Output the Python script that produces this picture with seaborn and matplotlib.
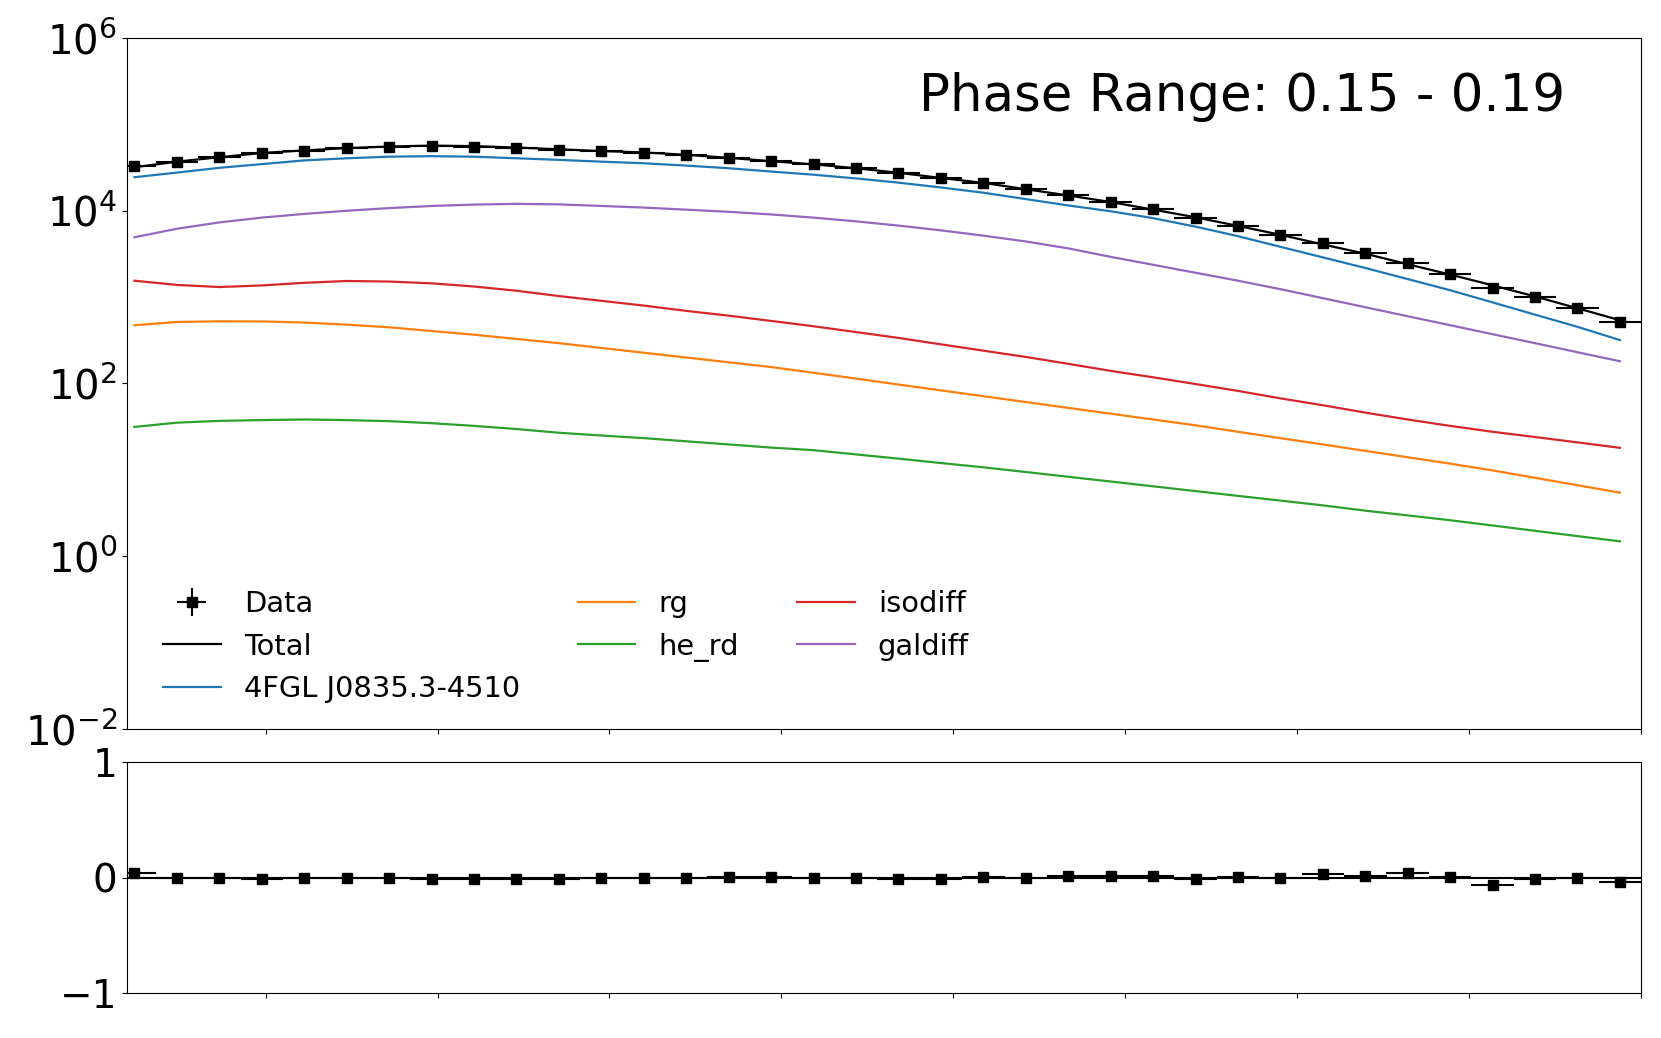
import numpy as np
import pandas as pd
import matplotlib
matplotlib.use("Agg")
import matplotlib.pyplot as plt
import matplotlib.ticker as mticker
import seaborn as sns

# energy bins (x in tick units, evenly spaced in log E)
x_centers = np.linspace(-0.763, 7.877, 36)
x_halfwidth = 0.1235

data_counts = [33230, 37000, 41650, 46240, 49620, 52960, 55250, 56200, 55250, 52960,
               50610, 48930, 47030, 44200, 41180, 37730, 34470, 30960, 27120, 23740,
               21150, 17700, 15230, 12720, 10400, 8300, 6714, 5236, 4190, 3211,
               2497, 1830, 1282, 1009, 739, 518]

total_model = [31900, 37000, 41650, 46660, 49920, 53120, 55420, 56710, 56030, 53880,
               51490, 49080, 47310, 44470, 40930, 37500, 34470, 31050, 27510, 23960,
               21020, 17750, 15050, 12610, 10310, 8400, 6674, 5268, 4072, 3182,
               2401, 1825, 1370, 1018, 743, 540]

vela_psr = [24420, 27650, 31400, 34670, 38260, 40500, 42250, 42840, 42250, 40500,
            38810, 37000, 35460, 33320, 31050, 28440, 26140, 23670, 21150, 18610,
            16170, 13650, 11520, 9860, 8206, 6546, 5076, 3826, 2885, 2175,
            1617, 1202, 868, 627, 453, 318]

rg = [473, 515, 525, 523, 508, 480, 447, 405, 367, 328,
      293, 258, 227, 200, 176, 155, 133, 114, 97.2, 83.2,
      71.3, 61.0, 52.2, 44.7, 38.3, 32.8, 27.6, 23.3, 19.7, 16.6,
      14.0, 11.8, 9.86, 8.09, 6.64, 5.45]

he_rd = [31.4, 35.2, 36.9, 37.7, 38.3, 37.7, 36.6, 34.7, 32.3, 29.7,
         26.9, 25.0, 23.3, 21.4, 19.7, 18.1, 16.9, 15.1, 13.5, 12.0,
         10.7, 9.45, 8.32, 7.33, 6.45, 5.68, 5.00, 4.41, 3.88, 3.37,
         2.97, 2.61, 2.27, 1.97, 1.71, 1.49]

isodiff = [1549, 1384, 1308, 1365, 1464, 1537, 1515, 1444, 1327, 1185,
           1029, 906, 798, 693, 610, 530, 460, 394, 337, 284,
           240, 203, 169, 140, 118, 98.6, 82.1, 67.3, 56.0, 46.0,
           38.3, 32.3, 27.6, 24.0, 20.8, 18.0]

galdiff = [4932, 6186, 7328, 8322, 9188, 10000, 10730, 11360, 11780, 12020,
           11850, 11360, 10880, 10290, 9720, 9060, 8322, 7540, 6733, 5930,
           5150, 4409, 3667, 2927, 2367, 1915, 1549, 1236, 972, 764,
           601, 473, 372, 293, 230, 181]

residuals = [0.043, 0.0, 0.0, -0.009, -0.006, -0.003, -0.003, -0.009, -0.014, -0.017,
             -0.017, -0.003, -0.006, -0.006, 0.006, 0.006, 0.0, -0.003, -0.014, -0.009,
             0.006, -0.003, 0.012, 0.009, 0.009, -0.012, 0.006, -0.006, 0.029, 0.009,
             0.040, 0.003, -0.064, -0.009, -0.006, -0.040]

resid_err = [0.004, 0.004, 0.004, 0.004, 0.004, 0.004, 0.004, 0.004, 0.004, 0.004,
             0.004, 0.004, 0.004, 0.005, 0.005, 0.005, 0.005, 0.006, 0.006, 0.006,
             0.007, 0.007, 0.008, 0.008, 0.009, 0.010, 0.011, 0.012, 0.013, 0.015,
             0.016, 0.018, 0.020, 0.022, 0.025, 0.028]

components = {
    "4FGL J0835.3-4510": (vela_psr, "tab:blue"),
    "rg": (rg, "tab:orange"),
    "he_rd": (he_rd, "tab:green"),
    "isodiff": (isodiff, "tab:red"),
    "galdiff": (galdiff, "tab:purple"),
}

fig = plt.figure(figsize=(16.61, 10.38), dpi=100)
ax = fig.add_axes([0.0765, 0.2977, 0.9115, 0.6657])
axr = fig.add_axes([0.0765, 0.0434, 0.9115, 0.2224])

data_err = np.array(data_counts) * np.array(resid_err)
h_data = ax.errorbar(x_centers, data_counts, xerr=x_halfwidth, yerr=data_err,
                     fmt="s", color="k", markersize=7, elinewidth=1.5, zorder=5)

handles = [h_data]
labels = ["Data"]

df = pd.DataFrame({"x": x_centers, "y": total_model})
sns.lineplot(data=df, x="x", y="y", color="k", linewidth=1.6, ax=ax, sort=False)
handles.append(ax.lines[-1])
labels.append("Total")

for name, (vals, col) in components.items():
    df = pd.DataFrame({"x": x_centers, "y": vals})
    sns.lineplot(data=df, x="x", y="y", color=col, linewidth=1.6, ax=ax, sort=False)
    handles.append(ax.lines[-1])
    labels.append(name)

ax.set_yscale("log")
ax.set_ylim(1e-2, 1e6)
ax.yaxis.set_major_locator(mticker.FixedLocator([1e-2, 1e0, 1e2, 1e4, 1e6]))
ax.yaxis.set_minor_locator(mticker.NullLocator())
ax.set_xlim(-0.806, 8.0)
ax.set_xticks(range(0, 9))
ax.tick_params(labelbottom=False, labelsize=29)
ax.set_xlabel("")
ax.set_ylabel("")
ax.text(0.95, 0.915, "Phase Range: 0.15 - 0.19", transform=ax.transAxes,
        ha="right", va="center", fontsize=37)
ax.legend(handles, labels, loc="lower left", bbox_to_anchor=(0.0065, 0.0),
          ncol=3, frameon=False, fontsize=20.8)

axr.errorbar(x_centers, residuals, xerr=x_halfwidth, yerr=resid_err,
             fmt="s", color="k", markersize=7, elinewidth=1.5, zorder=5)
axr.axhline(0, color="k", linewidth=1.5)
axr.set_ylim(-1, 1)
axr.set_yticks([-1, 0, 1])
axr.set_xlim(-0.806, 8.0)
axr.set_xticks(range(0, 9))
axr.tick_params(labelbottom=False, labelsize=28)

fig.savefig("out.png", dpi=100)
